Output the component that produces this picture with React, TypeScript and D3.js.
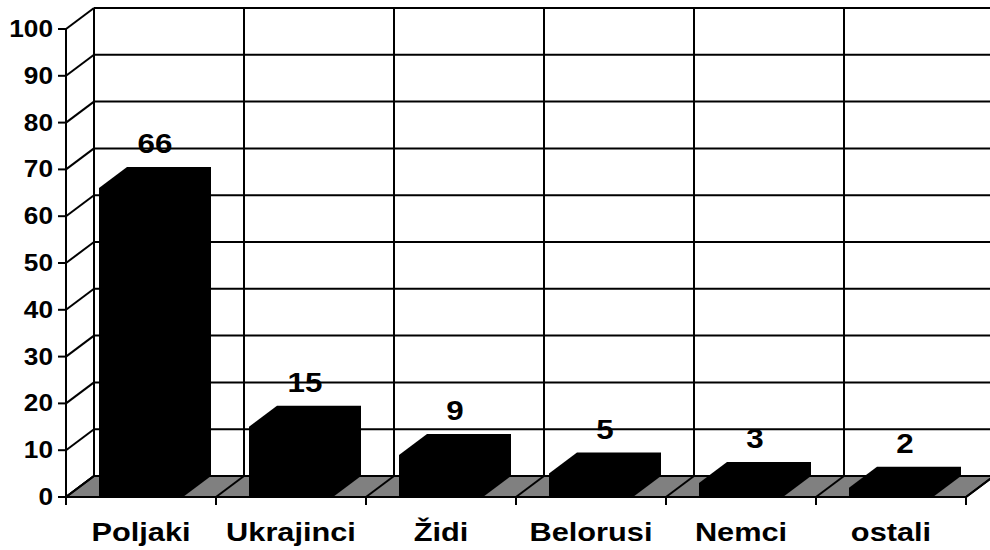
import React from "react";
import * as d3 from "d3";

// narodnosti, udio u %
const categories = ["Poljaki", "Ukrajinci", "Židi", "Belorusi", "Nemci", "ostali"];
const values = [66, 15, 9, 5, 3, 2];
const yTicks = [0, 10, 20, 30, 40, 50, 60, 70, 80, 90, 100];

const W = 990;
const H = 550;
const DX = 28; // 3d depth offset
const DY = -21;
const FONT = "'Liberation Sans', Arial, sans-serif";
const STRETCH = 1.14;

const App = () => {
  const x = d3.scaleBand<string>().domain(categories).range([66, 966]).padding(0);
  const y = d3.scaleLinear().domain([0, 100]).range([497, 29]);

  const bw = x.bandwidth();
  const barW = bw * 0.56;
  const barOff = bw * 0.22;
  const base = y(0);
  const right = x.range()[1];
  const left = x.range()[0];

  const boundaries = categories.map((c) => x(c) as number).concat([right]);

  return (
    <svg
      width={W}
      height={H}
      style={{ position: "absolute", left: 0, top: 0, background: "#fff" }}
    >
      {/* back wall grid */}
      <g stroke="#000" strokeWidth={2} fill="none">
        {yTicks.map((t) => (
          <line key={"h" + t} x1={left + DX} x2={right + DX} y1={y(t) + DY} y2={y(t) + DY} />
        ))}
        {boundaries.map((b, i) => (
          <line key={"v" + i} x1={b + DX} x2={b + DX} y1={y(100) + DY} y2={base + DY} />
        ))}
        {/* left wall */}
        {yTicks.map((t) => (
          <line key={"d" + t} x1={left} x2={left + DX} y1={y(t)} y2={y(t) + DY} />
        ))}
      </g>

      {/* floor */}
      <polygon
        points={[
          [left, base],
          [right, base],
          [right + DX, base + DY],
          [left + DX, base + DY],
        ].join(" ")}
        fill="#808080"
        stroke="#000"
        strokeWidth={2}
      />
      <g stroke="#000" strokeWidth={2}>
        {boundaries.map((b, i) => (
          <line key={"f" + i} x1={b} x2={b + DX} y1={base} y2={base + DY} />
        ))}
      </g>

      {/* bars */}
      {categories.map((c, i) => {
        const x0 = (x(c) as number) + barOff;
        const x1 = x0 + barW;
        const yt = y(values[i]);
        const pts = [
          [x0, base],
          [x0, yt],
          [x0 + DX, yt + DY],
          [x1 + DX, yt + DY],
          [x1 + DX, base + DY],
          [x1, base],
        ];
        return <polygon key={c} points={pts.join(" ")} fill="#000" />;
      })}

      {/* value labels */}
      {categories.map((c, i) => {
        const cx = (x(c) as number) + bw / 2 + DX / 2;
        const cy = y(values[i]) + DY - 14;
        return (
          <text
            key={"l" + c}
            transform={`translate(${cx},${cy}) scale(${STRETCH},1)`}
            textAnchor="middle"
            fontFamily={FONT}
            fontWeight="bold"
            fontSize={27.5}
          >
            {values[i]}
          </text>
        );
      })}

      {/* axes */}
      <g stroke="#000" strokeWidth={2}>
        <line x1={left} x2={left} y1={y(100)} y2={base} />
        {yTicks.map((t) => (
          <line key={"yt" + t} x1={left - 8} x2={left} y1={y(t)} y2={y(t)} />
        ))}
        <line x1={left} x2={right} y1={base} y2={base} />
        {boundaries.map((b, i) => (
          <line key={"xt" + i} x1={b} x2={b} y1={base} y2={base + 8} />
        ))}
      </g>
      {yTicks.map((t) => (
        <text
          key={"yl" + t}
          transform={`translate(53,${y(t) + 8}) scale(${STRETCH},1)`}
          textAnchor="end"
          fontFamily={FONT}
          fontWeight="bold"
          fontSize={23}
        >
          {t}
        </text>
      ))}

      {categories.map((c) => (
        <text
          key={"xl" + c}
          transform={`translate(${(x(c) as number) + bw / 2},541) scale(${STRETCH + 0.02},1)`}
          textAnchor="middle"
          fontFamily={FONT}
          fontWeight="bold"
          fontSize={26.5}
        >
          {c}
        </text>
      ))}
    </svg>
  );
};

export default App;
